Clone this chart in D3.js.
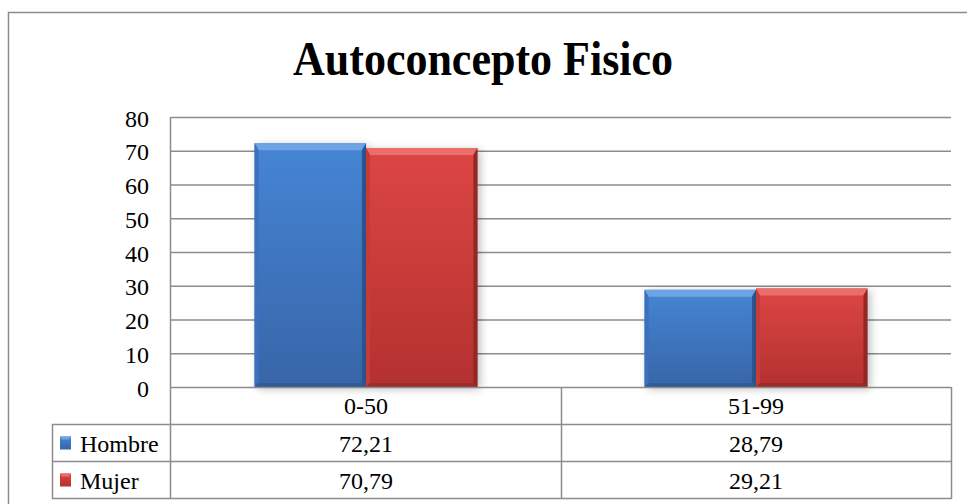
<!DOCTYPE html>
<html>
<head>
<meta charset="utf-8">
<script src="https://cdn.jsdelivr.net/npm/d3@7"></script>
<style>
  body { margin: 0; background: #fff; }
  text { font-family: "Liberation Serif", "Times New Roman", serif; fill: #000; }
</style>
</head>
<body>
<div id="chart"></div>
<script>
const categories = ["0-50", "51-99"]
const seriesNames = ["Hombre", "Mujer"]
const hombre = [72.21, 28.79]
const mujer = [70.79, 29.21]
const yTicks = [0, 10, 20, 30, 40, 50, 60, 70, 80]
const title = "Autoconcepto Fisico"

const W = 967, H = 504
const plotLeft = 171, plotRight = 951, plotTop = 117, zeroY = 387
const rowY = [387, 424, 461, 498]
const legendLeft = 52
const lineColor = "#8c8c8c"
const serif = "'Liberation Serif', 'Times New Roman', serif"

const esFormat = d3.formatLocale({decimal: ",", thousands: ".", grouping: [3], currency: ["", "€"]}).format(".2f")

const series = [
  {name: seriesNames[0], values: hombre, id: "blue",
   g0: "#4585d4", g1: "#3865a8", top: "#6ea4e6", side: "#3a70bd", dark: "#2c5591", bottom: "#2f5b9a"},
  {name: seriesNames[1], values: mujer, id: "red",
   g0: "#dc4644", g1: "#b3312f", top: "#ea6f6c", side: "#c63b39", dark: "#922826", bottom: "#9c2b29"}
]

const svg = d3.select("#chart").append("svg")
  .attr("width", W).attr("height", H)
  .attr("font-family", serif)

const defs = svg.append("defs")
series.forEach(s => {
  const gr = defs.append("linearGradient").attr("id", "grad-" + s.id)
    .attr("x1", 0).attr("y1", 0).attr("x2", 0).attr("y2", 1)
  gr.append("stop").attr("offset", "0%").attr("stop-color", s.g0)
  gr.append("stop").attr("offset", "100%").attr("stop-color", s.g1)
})
defs.append("filter").attr("id", "shadow").attr("x", "-20%").attr("y", "-20%").attr("width", "140%").attr("height", "140%")
  .append("feGaussianBlur").attr("stdDeviation", 4)

// outer frame (left + top visible)
svg.append("path")
  .attr("d", `M8.5,${H + 5} L8.5,12.5 L${W + 5},12.5`)
  .attr("fill", "none").attr("stroke", lineColor).attr("stroke-width", 1.5)

// title (condensed like the original)
svg.append("text")
  .attr("x", 293).attr("y", 75)
  .attr("textLength", 380).attr("lengthAdjust", "spacingAndGlyphs")
  .style("font-family", serif)
  .style("font-size", "48px").style("font-weight", "bold")
  .text(title)

const y = d3.scaleLinear().domain([0, 80]).range([zeroY, plotTop])
const x = d3.scaleBand().domain(categories).range([plotLeft, plotRight]).paddingInner(0).paddingOuter(0)
const xs = d3.scaleBand().domain(seriesNames).range([0, x.bandwidth()]).paddingInner(0).paddingOuter(0.75)

// gridlines
svg.append("g").selectAll("line").data(yTicks.filter(d => d > 0)).enter().append("line")
  .attr("x1", plotLeft).attr("x2", plotRight)
  .attr("y1", d => y(d) + 0.5).attr("y2", d => y(d) + 0.5)
  .attr("stroke", lineColor).attr("stroke-width", 1.5)

// y tick labels
const yAxis = d3.axisLeft(y).tickValues(yTicks).tickSize(0).tickPadding(22)
const ya = svg.append("g").attr("transform", `translate(${plotLeft},1.5)`).call(yAxis)
ya.attr("font-family", serif)
ya.select(".domain").remove()
ya.selectAll("text").style("font-size", "24px").style("font-family", serif)

// bars
const barsG = svg.append("g")
function bevelBar(g, bx, by, bw, bh, s) {
  g.append("rect").attr("x", bx + 3).attr("y", by + 2).attr("width", bw).attr("height", bh)
    .attr("fill", "#000").attr("opacity", 0.25).attr("filter", "url(#shadow)")
  g.append("rect").attr("x", bx).attr("y", by).attr("width", bw).attr("height", bh)
    .attr("fill", `url(#grad-${s.id})`)
  const bt = 7, bs = 4
  const poly = (pts, fill) => g.append("polygon").attr("points", pts.map(p => p.join(",")).join(" ")).attr("fill", fill)
  poly([[bx, by], [bx + bw, by], [bx + bw - bs, by + bt], [bx + bs, by + bt]], s.top)
  poly([[bx, by], [bx + bs, by + bt], [bx + bs, by + bh - bs], [bx, by + bh]], s.side)
  poly([[bx + bw, by], [bx + bw, by + bh], [bx + bw - bs, by + bh - bs], [bx + bw - bs, by + bt]], s.dark)
  poly([[bx, by + bh], [bx + bs, by + bh - bs], [bx + bw - bs, by + bh - bs], [bx + bw, by + bh]], s.bottom)
}
categories.forEach((c, i) => {
  series.forEach(s => {
    const bx = x(c) + xs(s.name)
    const by = y(s.values[i])
    bevelBar(barsG, bx, by, xs.bandwidth(), zeroY - by, s)
  })
})

function bevelSwatch(g, bx, by, bw, bh, s) {
  g.append("rect").attr("x", bx).attr("y", by).attr("width", bw).attr("height", bh).attr("fill", `url(#grad-${s.id})`)
  g.append("polygon").attr("points", `${bx},${by} ${bx + bw},${by} ${bx + bw - 2},${by + 3} ${bx + 2},${by + 3}`).attr("fill", s.top)
}

// data table
const t = svg.append("g").attr("fill", "none").attr("stroke", lineColor).attr("stroke-width", 1.5)
t.append("line").attr("x1", plotLeft).attr("x2", plotRight).attr("y1", rowY[0] + 0.5).attr("y2", rowY[0] + 0.5)
rowY.slice(1).forEach(r => {
  t.append("line").attr("x1", legendLeft).attr("x2", plotRight).attr("y1", r + 0.5).attr("y2", r + 0.5)
})
t.append("line").attr("x1", plotLeft - 0.5).attr("x2", plotLeft - 0.5).attr("y1", plotTop).attr("y2", rowY[3] + 1)
t.append("line").attr("x1", legendLeft + 0.5).attr("x2", legendLeft + 0.5).attr("y1", rowY[1]).attr("y2", rowY[3] + 1)
t.append("line").attr("x1", plotRight + 0.5).attr("x2", plotRight + 0.5).attr("y1", rowY[0]).attr("y2", rowY[3] + 1)
categories.slice(1).forEach(c => {
  t.append("line").attr("x1", x(c) + 0.5).attr("x2", x(c) + 0.5).attr("y1", rowY[0]).attr("y2", rowY[3] + 1)
})

const txt = svg.append("g").style("font-size", "24px").style("font-family", serif)
categories.forEach(c => {
  txt.append("text").attr("x", x(c) + x.bandwidth() / 2).attr("y", (rowY[0] + rowY[1]) / 2 + 8.5)
    .attr("text-anchor", "middle").text(c)
})
series.forEach((s, si) => {
  const cy = (rowY[si + 1] + rowY[si + 2]) / 2
  bevelSwatch(svg, 60, cy - 6, 11, 13, s)
  txt.append("text").attr("x", 80).attr("y", cy + 9).text(s.name)
  categories.forEach((c, i) => {
    txt.append("text").attr("x", x(c) + x.bandwidth() / 2).attr("y", cy + 9)
      .attr("text-anchor", "middle").text(esFormat(s.values[i]))
  })
})
</script>
</body>
</html>
